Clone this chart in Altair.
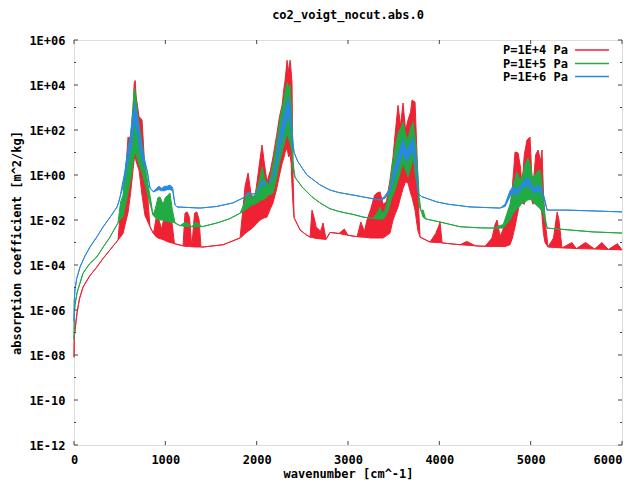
import altair as alt
import pandas as pd

# ---------------- data (log10 of absorption coefficient) -------------
red_x = [0, 3, 11, 33, 60, 99, 170, 250, 320, 394, 450, 482, 500, 537, 560, 591, 620, 646, 660, 670, 680, 712, 745, 777, 810, 832,
         870, 900, 920, 960, 990, 1018, 1050, 1073, 1100, 1194, 1215, 1240, 1265, 1290, 1320, 1345, 1370, 1390, 1413, 1632, 1818,
         1850, 1873, 1906, 1940, 1980, 2004, 2040, 2059, 2085, 2113, 2150, 2179, 2220, 2250, 2278, 2300, 2311, 2333, 2350, 2366,
         2378, 2387, 2398, 2410, 2475, 2540, 2584, 2606, 2630, 2650, 2700, 2727, 2760, 2803, 2900, 2960, 3000, 3100, 3140, 3180,
         3208, 3250, 3290, 3318, 3351, 3384, 3420, 3460, 3493, 3520, 3548, 3575, 3603, 3630, 3657, 3685, 3701, 3734, 3755, 3767,
         3789, 3898, 3960, 3990, 4008, 4030, 4227, 4300, 4400, 4500, 4577, 4610, 4632, 4665, 4720, 4774, 4800, 4829, 4862, 4890,
         4905, 4930, 4960, 4993, 5010, 5026, 5055, 5081, 5110, 5124, 5140, 5157, 5190, 5250, 5290, 5310, 5343, 5450, 5500, 5600,
         5700, 5780, 5850, 5950, 6000]
red_lo = [-8.1, -7.2, -6.9, -6.13, -5.5, -4.98, -4.5, -4.09, -3.7, -3.33, -3.05, -2.89, -2.8, -2.6, -2.2, -1.69, -0.8, 0.22, 0.7,
          0.8, 0.6, 0.22, -0.9, -1.8, -2.1, -2.3, -2.6, -2.75, -2.8, -2.85, -2.9, -2.95, -3.0, -3.02, -3.05, -3.15, -3.17, -3.18,
          -3.18, -3.19, -3.2, -3.2, -3.2, -3.2, -3.2, -3.1, -2.8, -2.7, -2.6, -2.5, -2.4, -2.25, -2.13, -2.0, -1.95, -1.9, -1.87,
          -1.5, -1.24, -0.6, 0.0, 0.5, 0.8, 1.0, 1.2, 0.8, 0.9, 0.5, -0.5, -1.3, -1.9, -2.44, -2.65, -2.76, -2.78, -2.8, -2.82,
          -2.84, -2.85, -2.86, -2.55, -2.6, -2.65, -2.68, -2.74, -2.76, -2.77, -2.78, -2.8, -2.8, -2.8, -2.8, -2.8, -2.7, -2.58,
          -2.0, -1.7, -1.42, -1.0, -0.6, -0.3, -0.36, -0.8, -1.0, -1.56, -2.2, -2.5, -2.76, -2.98, -3.0, -3.0, -3.0, -3.02, -3.1,
          -3.12, -3.15, -3.17, -3.18, -3.18, -3.18, -3.18, -3.18, -3.1, -2.8, -2.3, -1.6, -1.0, -1.24, -1.3, -0.8, -0.6, -1.1, -1.3,
          -1.0, -0.9, -1.2, -1.8, -2.6, -3.0, -3.2, -3.22, -3.23, -3.23, -3.24, -3.26, -3.27, -3.28, -3.29, -3.3, -3.31, -3.32,
          -3.33]
red_hi = [-8.1, -7.2, -6.9, -6.13, -5.5, -4.98, -4.5, -4.09, -3.7, -3.33, -3.05, -2.89, -2.0, -1.1, -0.3, 1.69, 1.6, 3.0, 4.1,
          4.2, 3.5, 2.6, 2.44, 0.22, -1.1, -2.3, -2.6, -1.9, -1.87, -2.4, -1.8, -1.7, -1.9, -2.13, -3.05, -3.15, -1.7, -1.64,
          -1.9, -3.19, -1.7, -1.64, -2.0, -3.2, -3.2, -3.1, -2.8, -1.5, -0.5, 0.09, -0.9, -1.0, -0.3, 0.8, 1.33, 0.5, -0.3, 0.2,
          0.8, 1.8, 2.6, 3.1, 3.9, 4.2, 5.1, 4.6, 5.1, 4.6, 4.1, 0.0, -1.9, -2.44, -2.65, -2.76, -1.56, -1.9, -2.3, -2.5, -2.13,
          -2.86, -2.55, -2.6, -2.4, -2.68, -2.74, -2.09, -2.5, -2.0, -1.5, -0.9, -0.8, -0.75, -1.3, -1.2, -0.22, 0.8, 2.0, 3.1,
          2.2, 3.2, 2.0, 2.44, 2.8, 3.33, 3.24, 1.0, -0.98, -2.76, -2.98, -2.6, -2.3, -2.09, -3.02, -3.1, -2.95, -3.15, -3.17,
          -2.8, -2.2, -2.0, -2.73, -2.2, -2.0, -0.5, 1.02, 0.98, 0.3, -0.53, 0.9, 1.56, 1.69, 0.2, -0.53, 0.9, 1.11, 0.6, 1.11,
          -0.8, -2.0, -3.2, -2.8, -1.64, -2.0, -3.24, -3.0, -3.27, -3.0, -3.29, -3.0, -3.31, -3.05, -3.33]

green_x = [0, 3, 10, 33, 66, 99, 170, 250, 320, 394, 450, 482, 510, 537, 560, 591, 620, 646, 660, 675, 700, 745, 777, 810, 840,
           865, 890, 920, 942, 975, 1000, 1030, 1051, 1075, 1106, 1160, 1215, 1250, 1290, 1330, 1365, 1400, 1566, 1700, 1818,
           1860, 1906, 1940, 1980, 2020, 2059, 2090, 2130, 2180, 2220, 2256, 2290, 2311, 2333, 2350, 2366, 2385, 2398, 2420,
           2497, 2600, 2694, 2803, 2900, 3055, 3165, 3274, 3330, 3351, 3370, 3400, 3438, 3480, 3515, 3550, 3580, 3603, 3630,
           3657, 3685, 3712, 3740, 3767, 3780, 3800, 3822, 3850, 4008, 4227, 4450, 4588, 4700, 4774, 4810, 4850, 4880, 4905,
           4940, 4971, 5000, 5015, 5050, 5080, 5102, 5120, 5135, 5160, 5180, 5683, 6000]
green_lo = [-7.3, -6.3, -5.8, -5.24, -4.8, -4.36, -3.95, -3.64, -3.2, -2.76, -2.35, -2.13, -1.95, -1.87, -1.4, -0.8, -0.2, 0.5,
            0.9, 0.98, 0.6, 0.09, -0.4, -0.93, -1.4, -1.78, -1.9, -2.0, -2.0, -2.0, -2.05, -2.05, -2.1, -2.1, -2.13, -2.25,
            -2.28, -2.3, -2.3, -2.3, -2.3, -2.3, -2.13, -1.95, -1.7, -1.6, -1.45, -1.35, -1.3, -1.2, -1.1, -1.05, -0.9, -0.8,
            -0.1, 0.67, 1.2, 1.5, 1.87, 1.6, 1.42, 1.0, 0.22, -0.1, -0.53, -0.95, -1.24, -1.5, -1.62, -1.75, -1.87, -1.93,
            -1.95, -1.95, -1.98, -1.9, -1.6, -1.0, -0.67, -0.2, 0.2, 0.53, 0.2, -0.09, 0.3, 0.8, -0.1, -0.67, -1.4, -1.6,
            -1.87, -1.95, -2.09, -2.3, -2.35, -2.36, -2.36, -2.0, -1.7, -1.5, -1.4, -1.24, -1.2, -1.1, -1.1, -1.1, -1.3, -1.4,
            -1.5, -1.6, -1.7, -2.1, -2.36, -2.53, -2.58]
green_hi = [-7.3, -6.3, -5.8, -5.24, -4.8, -4.36, -3.95, -3.64, -3.2, -2.76, -2.35, -2.13, -1.2, -0.9, 0.2, 1.2, 1.8, 3.0, 3.87,
            3.6, 2.6, 1.4, 0.5, -0.4, -1.1, -1.78, -1.5, -1.0, -0.98, -1.3, -1.0, -0.9, -0.8, -1.5, -2.13, -2.25, -2.1, -2.15,
            -2.3, -2.1, -2.15, -2.3, -2.13, -1.95, -1.7, -1.3, -0.75, -1.0, -0.9, -0.4, 0.36, -0.2, -0.5, 0.5, 1.5, 2.5, 3.2,
            3.7, 4.13, 3.9, 4.0, 2.6, 0.6, -0.1, -0.53, -0.95, -1.24, -1.5, -1.62, -1.75, -1.87, -1.93, -1.6, -1.42, -1.7,
            -1.6, -1.1, 0.3, 1.2, 1.9, 2.1, 2.36, 1.8, 1.6, 2.1, 2.36, 1.5, 0.0, -1.0, -1.6, -1.55, -1.95, -2.09, -2.3, -2.35,
            -2.36, -2.2, -1.3, -0.4, 0.13, -0.2, -0.1, 0.5, 0.76, 0.4, -0.1, 0.0, 0.2, 0.22, -0.2, -1.0, -1.9, -2.36, -2.53,
            -2.58]

blue_x = [0, 3, 10, 30, 66, 120, 175, 250, 318, 400, 471, 490, 504, 525, 560, 591, 620, 646, 668, 690, 720, 760, 800, 832, 870,
          900, 930, 960, 990, 1020, 1051, 1080, 1106, 1128, 1380, 1560, 1741, 1860, 1906, 1950, 2004, 2040, 2070, 2100, 2150,
          2200, 2250, 2290, 2320, 2344, 2370, 2395, 2410, 2450, 2550, 2694, 2803, 2900, 3055, 3200, 3350, 3400, 3460, 3500,
          3550, 3600, 3640, 3670, 3712, 3745, 3767, 3800, 3975, 4100, 4336, 4665, 4720, 4774, 4810, 4850, 4900, 4971, 5030,
          5102, 5150, 5180, 5400, 6000]
blue_lo = [-6.5, -5.6, -5.1, -4.6, -4.09, -3.6, -3.2, -2.75, -2.31, -1.85, -1.42, -1.2, -0.98, -0.7, -0.15, 0.6, 1.1, 1.9, 2.4,
           1.9, 1.1, 0.5, 0.22, -0.58, -0.75, -0.7, -0.65, -0.7, -0.7, -0.65, -0.65, -0.7, -1.33, -1.42, -1.47, -1.4, -1.24,
           -1.0, -0.85, -0.85, -0.8, -0.55, -0.35, -0.45, -0.3, 0.05, 1.1, 1.8, 2.3, 2.7, 2.3, 1.3, 1.0, 0.6, 0.0, -0.44, -0.67,
           -0.78, -0.89, -1.0, -1.11, -1.05, -0.75, -0.2, 0.35, 1.0, 0.6, 0.8, 1.1, 0.3, -0.8, -0.95, -1.2, -1.3, -1.42, -1.47,
           -1.4, -0.95, -0.8, -0.9, -0.6, -0.45, -0.8, -0.7, -1.1, -1.56, -1.56, -1.64]
blue_hi = [-6.5, -5.6, -5.1, -4.6, -4.09, -3.6, -3.2, -2.75, -2.31, -1.85, -1.42, -1.2, -0.98, -0.5, 0.2, 1.2, 1.8, 2.7, 3.2, 2.7,
           1.8, 0.9, 0.22, -0.58, -0.75, -0.6, -0.5, -0.6, -0.5, -0.5, -0.45, -0.55, -1.33, -1.42, -1.47, -1.4, -1.24, -1.0,
           -0.75, -0.85, -0.8, -0.4, -0.22, -0.45, -0.3, 0.3, 1.8, 2.5, 3.0, 3.47, 3.0, 1.6, 1.0, 0.6, 0.0, -0.44, -0.67,
           -0.78, -0.89, -1.0, -1.11, -0.95, -0.6, 0.2, 0.9, 1.6, 1.1, 1.3, 1.69, 0.8, -0.8, -0.95, -1.2, -1.3, -1.42, -1.47,
           -1.3, -0.7, -0.5, -0.67, -0.4, -0.09, -0.6, -0.44, -1.0, -1.56, -1.56, -1.64]

series_names = ["P=1E+4 Pa", "P=1E+5 Pa", "P=1E+6 Pa"]
series_colors = ["#ee2233", "#22aa44", "#2a88dd"]

x_ticks = [0, 1000, 2000, 3000, 4000, 5000, 6000]
y_exps = list(range(-12, 7))
y_label_exps = list(range(-12, 7, 2))

W, H = 548, 405
FONT = "DejaVu Sans Mono"


def frame(xs, lo, hi):
    return pd.DataFrame({"x": xs, "lo": [10.0 ** v for v in lo], "hi": [10.0 ** v for v in hi]})


xscale = alt.Scale(domain=[0, 6000], nice=False, zero=False)
yscale = alt.Scale(type="log", domain=[1e-12, 1e6], nice=False)

x_axis = alt.Axis(values=x_ticks, format="d", tickSize=0, domain=False, grid=False, labelPadding=9,
                  labelFlush=False, labelOverlap=False,
                  labelAlign={"expr": "datum.value >= 6000 ? 'right' : 'center'"},
                  labelFont=FONT, labelFontSize=12, labelFontWeight="bold", labelColor="#000",
                  title="wavenumber [cm^-1]", titleFont=FONT, titleFontSize=12, titleFontWeight="bold",
                  titleColor="#000", titlePadding=3)
y_axis = alt.Axis(values=[10.0 ** e for e in y_label_exps], tickSize=0, domain=False, grid=False, labelPadding=9,
                  labelFlush=False, labelOverlap=False,
                  labelFont=FONT, labelFontSize=12, labelFontWeight="bold", labelColor="#000",
                  labelExpr="'1E' + (round(log(datum.value)/LN10) < 0 ? '-' : '+') + "
                            "pad(toString(abs(round(log(datum.value)/LN10))), 2, '0', 'left')",
                  title="absorption coefficient [m^2/kg]", titleFont=FONT, titleFontSize=12,
                  titleFontWeight="bold", titleColor="#000", titlePadding=5)

X = lambda f: alt.X(f, scale=xscale, axis=x_axis)
Y = lambda f: alt.Y(f, scale=yscale, axis=y_axis)

layers = []
datasets = [(red_x, red_lo, red_hi), (green_x, green_lo, green_hi), (blue_x, blue_lo, blue_hi)]
for i, (xs, lo, hi) in enumerate(datasets):
    df = frame(xs, lo, hi)
    col = series_colors[i]
    base = alt.Chart(df)
    area = base.mark_area(color=col, opacity=1, line={"color": col, "strokeWidth": 1}).encode(
        x=X("x:Q"), y=Y("hi:Q"), y2="lo:Q")
    line = base.mark_line(color=col, strokeWidth=1).encode(x=X("x:Q"), y=Y("lo:Q"))
    layers += [area, line]

# inward tick marks on all four sides
ytick_df = pd.DataFrame({"v": [10.0 ** e for e in y_exps],
                         "major": [e % 2 == 0 for e in y_exps]})
xtick_df = pd.DataFrame({"v": x_ticks})
tick_col = "#444"
for major, ln in [(True, 4), (False, 2)]:
    sub = ytick_df[ytick_df["major"] == major]
    layers.append(alt.Chart(sub).mark_rule(color=tick_col, strokeWidth=1).encode(
        y=Y("v:Q"), x=alt.value(0), x2=alt.value(ln)))
    layers.append(alt.Chart(sub).mark_rule(color=tick_col, strokeWidth=1).encode(
        y=Y("v:Q"), x=alt.value(W), x2=alt.value(W - ln)))
layers.append(alt.Chart(xtick_df).mark_rule(color=tick_col, strokeWidth=1).encode(
    x=X("v:Q"), y=alt.value(H), y2=alt.value(H - 4)))
layers.append(alt.Chart(xtick_df).mark_rule(color=tick_col, strokeWidth=1).encode(
    x=X("v:Q"), y=alt.value(0), y2=alt.value(4)))

# legend (text left of the line sample, as in gnuplot)
leg_y = [10, 23.5, 36.5]
for i, name in enumerate(series_names):
    ldf = pd.DataFrame({"label": [name]})
    layers.append(alt.Chart(ldf).mark_text(align="right", baseline="middle", font=FONT, fontSize=12,
                                           fontWeight="bold", color="#000").encode(
        text="label:N", x=alt.value(494), y=alt.value(leg_y[i])))
    layers.append(alt.Chart(ldf).mark_rule(color=series_colors[i], strokeWidth=1.5).encode(
        x=alt.value(501), x2=alt.value(535), y=alt.value(leg_y[i])))

chart = alt.layer(*layers).properties(
    width=W, height=H,
    title=alt.TitleParams("co2_voigt_nocut.abs.0", font=FONT, fontSize=12, fontWeight="bold",
                          color="#000", offset=12),
    autosize=alt.AutoSizeParams(type="none"),
    padding={"left": 66, "top": 32, "right": 5, "bottom": 36},
).configure_view(stroke="#707070", strokeWidth=1).configure(background="white")

chart.save("out.html", embed_options={"renderer": "svg", "actions": False})
